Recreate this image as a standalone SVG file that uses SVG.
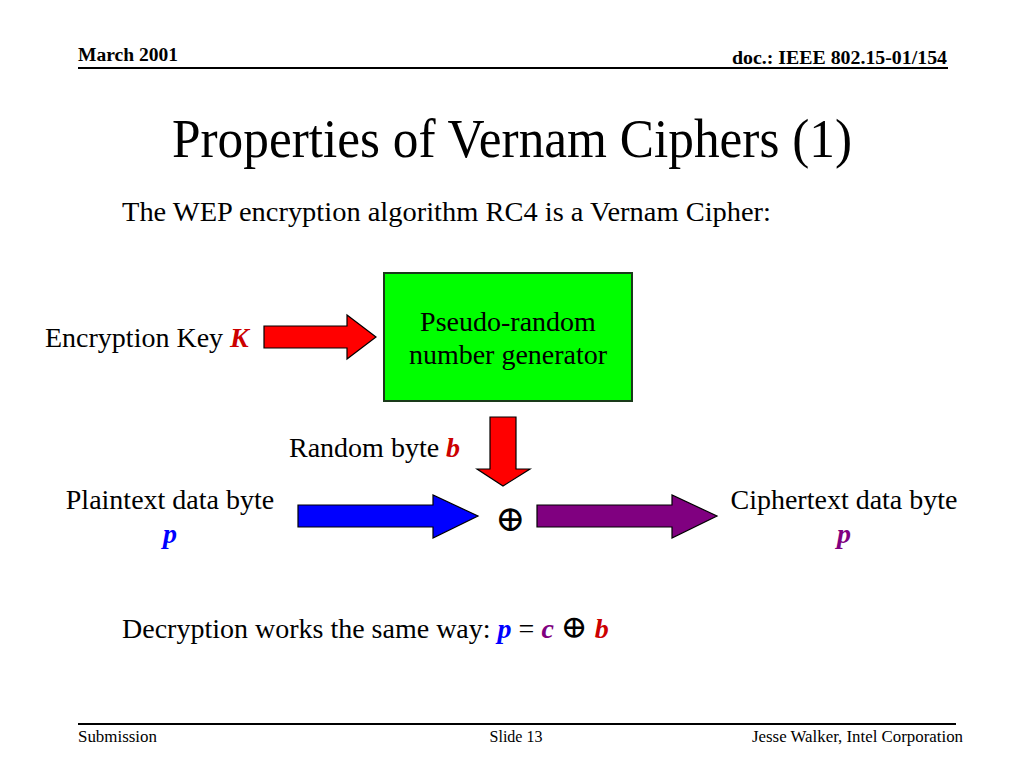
<svg xmlns="http://www.w3.org/2000/svg" width="1024" height="768" viewBox="0 0 1024 768">
<style>
text { font-family: "Liberation Serif", "Times New Roman", "DejaVu Serif", serif; fill: #000; }
.hdr { font-weight: bold; font-size: 18px; }
.ftr { font-size: 16px; }
.body { font-size: 28px; }
.var { font-weight: bold; font-style: italic; }
.red { fill: #CC0000; }
.blue { fill: #0000FF; }
.purple { fill: #800080; }
.arrow { stroke: #000; stroke-width: 1.2; stroke-linejoin: miter; }
</style>
<rect width="1024" height="768" fill="#fff"/>
<g id="header">
  <text class="hdr" x="78" y="61" textLength="100" lengthAdjust="spacingAndGlyphs">March 2001</text>
  <text class="hdr" x="947" y="64" text-anchor="end" textLength="215" lengthAdjust="spacingAndGlyphs">doc.: IEEE 802.15-01/154</text>
  <line x1="78" y1="68" x2="948" y2="68" stroke="#000" stroke-width="2"/>
</g>
<g id="title">
  <text x="512" y="157" text-anchor="middle" font-size="54" textLength="680" lengthAdjust="spacingAndGlyphs">Properties of Vernam Ciphers (1)</text>
  <text class="body" x="122" y="221" textLength="649" lengthAdjust="spacingAndGlyphs">The WEP encryption algorithm RC4 is a Vernam Cipher:</text>
</g>
<g id="key-label">
  <text class="body" x="45" y="347">Encryption Key <tspan class="var red">K</tspan></text>
</g>
<g id="prng">
  <rect x="384" y="273" width="248" height="128" fill="#00FF00" stroke="#1a3a1a" stroke-width="2"/>
  <text class="body" x="508" y="331" text-anchor="middle">Pseudo-random</text>
  <text class="body" x="508" y="364" text-anchor="middle">number generator</text>
</g>
<g id="random-label">
  <text class="body" x="289" y="457">Random byte <tspan class="var red">b</tspan></text>
</g>
<g id="xor">
  <text x="510" y="531" text-anchor="middle" font-size="36">⊕</text>
</g>
<g id="plain">
  <text class="body" x="170" y="509" text-anchor="middle">Plaintext data byte</text>
  <text class="body var blue" x="170" y="543" text-anchor="middle">p</text>
</g>
<g id="cipher">
  <text class="body" x="844" y="509" text-anchor="middle">Ciphertext data byte</text>
  <text class="body var purple" x="844" y="543" text-anchor="middle">p</text>
</g>
<g id="connectors">
  <polygon class="arrow" fill="#FF0000" points="264,326 347,326 347,315 376,337 347,359 347,348 264,348"/>
  <polygon class="arrow" fill="#FF0000" points="490,417 516,417 516,469 530,469 503,486 477,469 490,469"/>
  <polygon class="arrow" fill="#0000FF" points="298,505 433,505 433,495 478,516 433,538 433,527 298,527"/>
  <polygon class="arrow" fill="#800080" points="537,505 672,505 672,495 717,516 672,538 672,527 537,527"/>
</g>
<g id="decryption">
  <text class="body" x="122" y="638">Decryption works the same way: <tspan class="var blue">p</tspan> = <tspan class="var purple">c</tspan> <tspan font-size="32">⊕</tspan> <tspan class="var red">b</tspan></text>
</g>
<g id="footer">
  <line x1="78" y1="724" x2="956" y2="724" stroke="#000" stroke-width="2"/>
  <text class="ftr" x="78" y="742" textLength="79" lengthAdjust="spacingAndGlyphs">Submission</text>
  <text class="ftr" x="516" y="742" text-anchor="middle">Slide 13</text>
  <text class="ftr" x="963" y="742" text-anchor="end" textLength="211" lengthAdjust="spacingAndGlyphs">Jesse Walker, Intel Corporation</text>
</g>
</svg>
